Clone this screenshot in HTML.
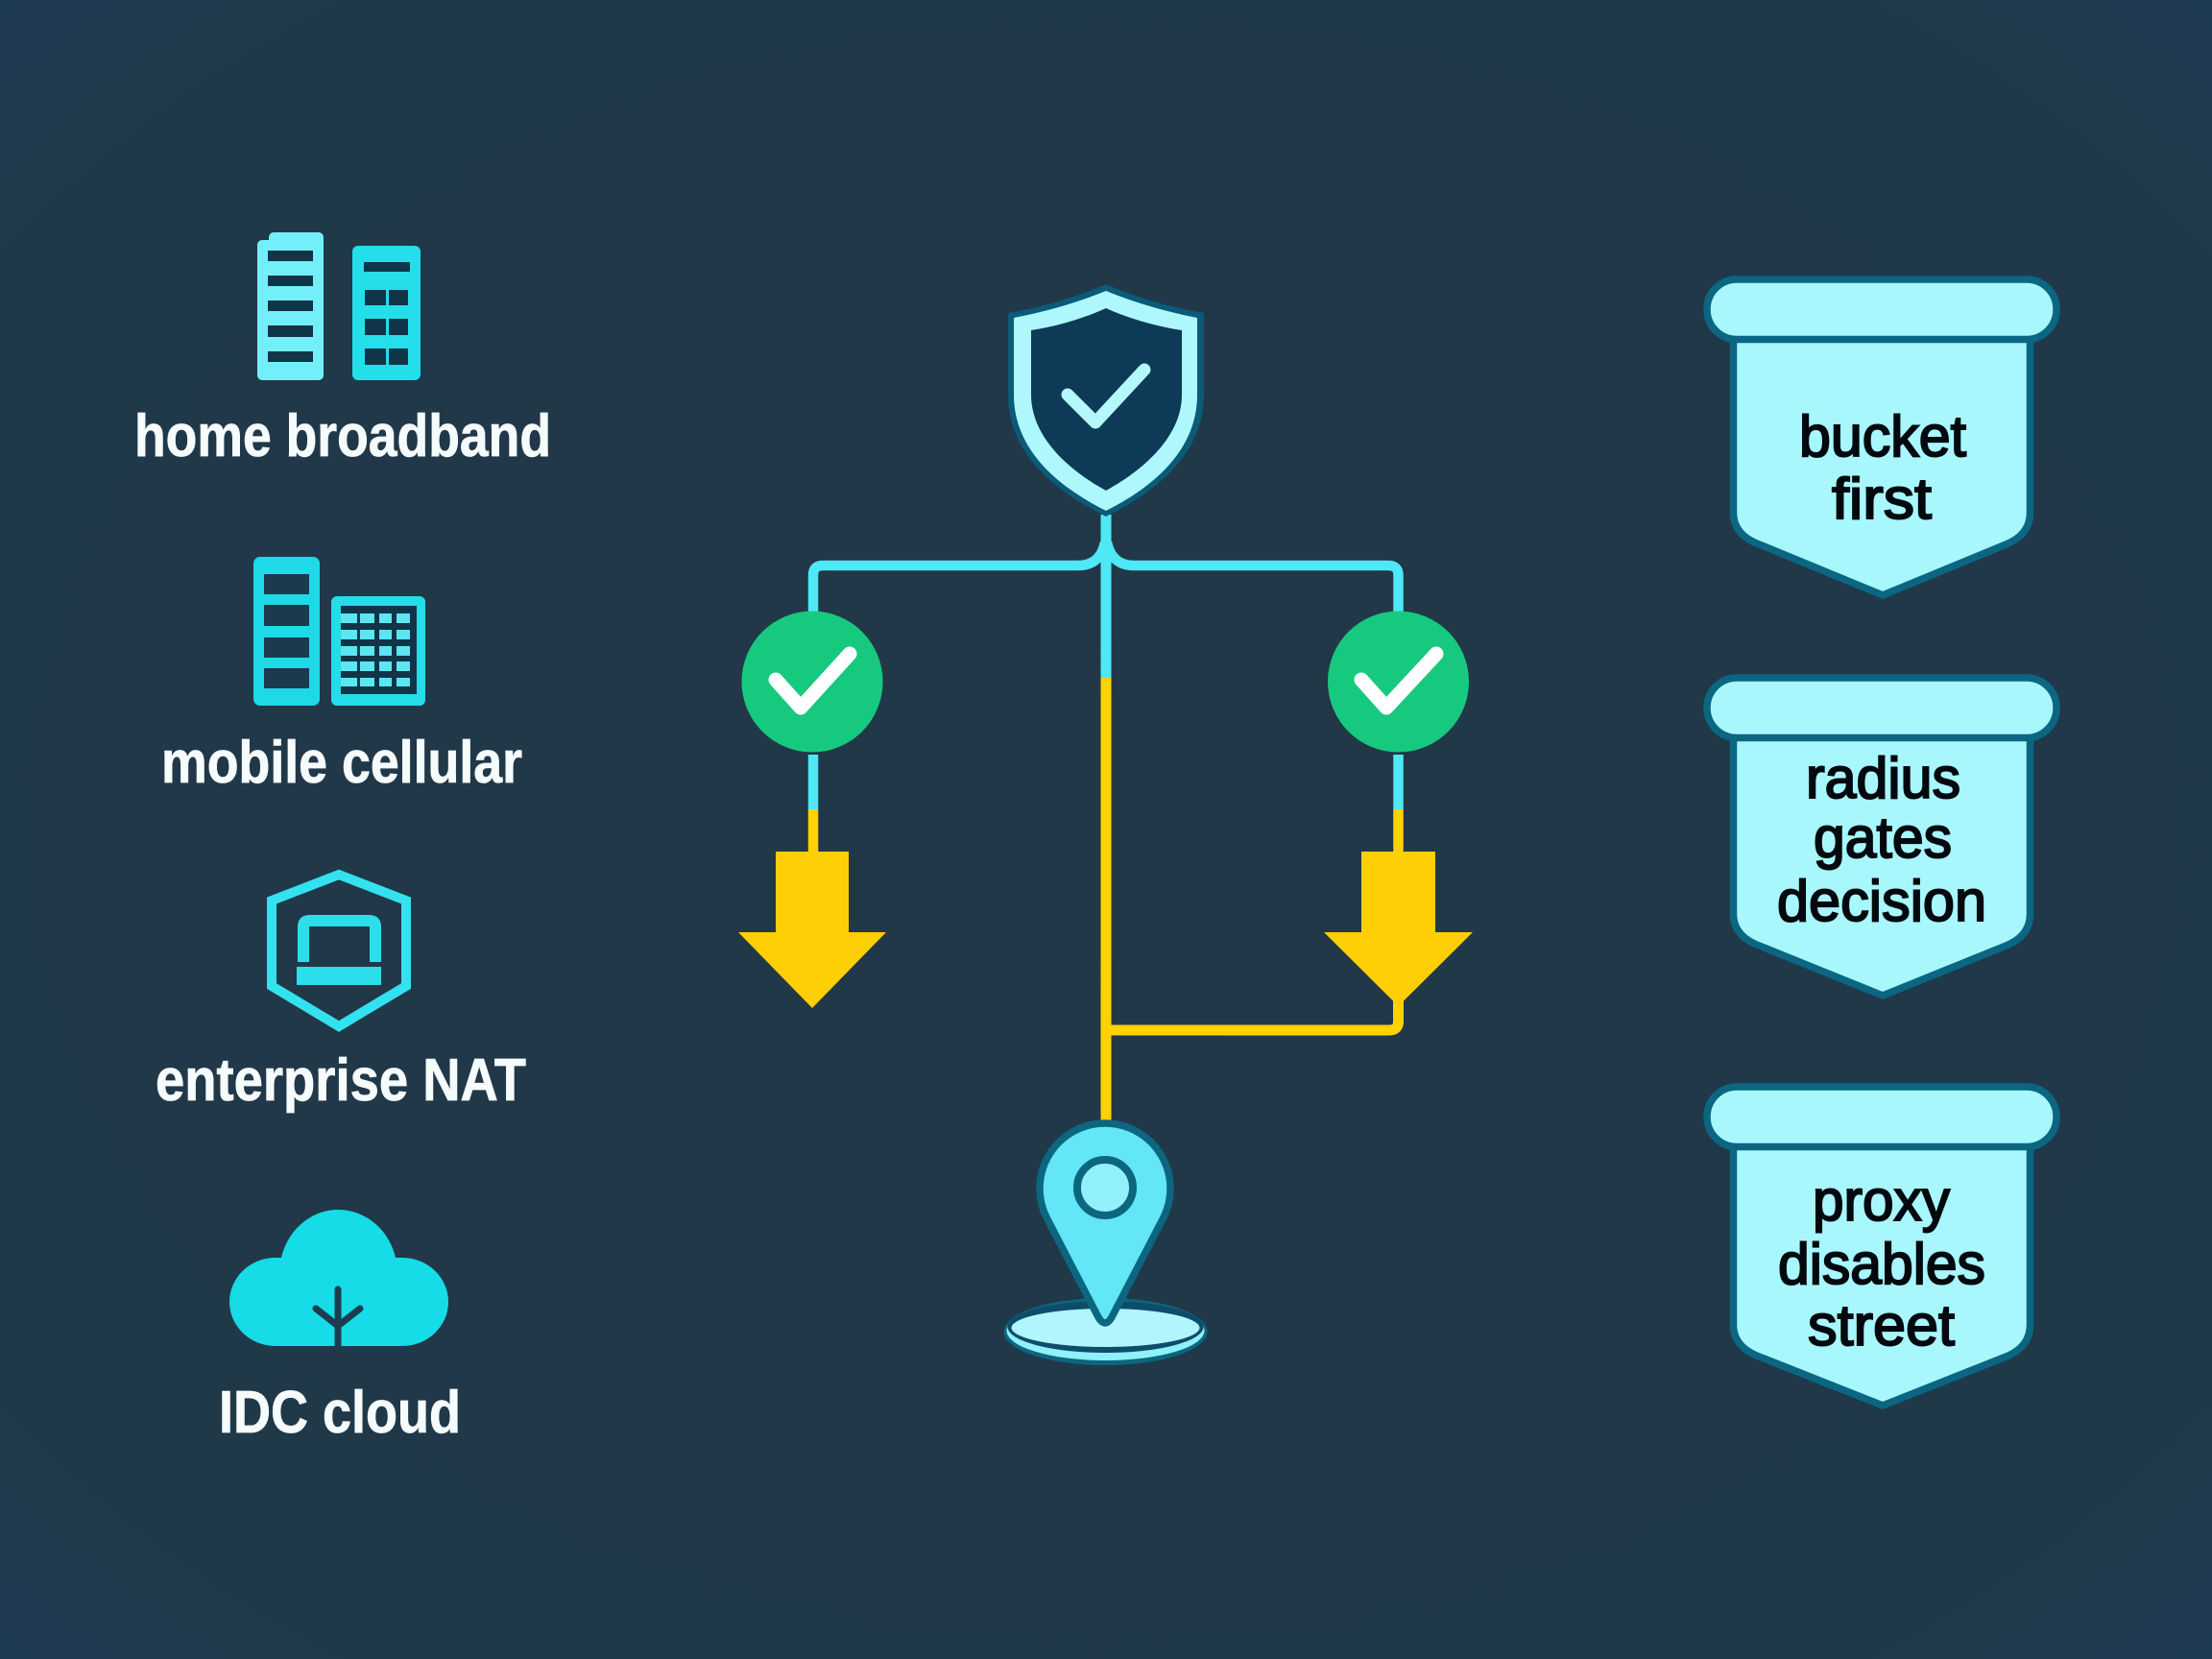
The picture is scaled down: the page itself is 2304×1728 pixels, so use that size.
<!DOCTYPE html>
<html lang="en"><head><meta charset="utf-8"><title>Diagram</title>
<style>
html,body{margin:0;padding:0;background:#213849}
svg{display:block}
text{font-family:"Liberation Sans",sans-serif}
.w{fill:#f6fbfc;stroke:#f6fbfc;stroke-width:.8px;font-weight:700;font-size:62px}
.k{fill:#03090e;font-size:60px;stroke:#03090e;stroke-width:2px}
</style></head><body>
<svg xmlns="http://www.w3.org/2000/svg" width="2304" height="1728" viewBox="0 0 2304 1728">
<defs>
<radialGradient id="bg" cx="50%" cy="50%" r="72%">
<stop offset="0" stop-color="#213748"/><stop offset="0.82" stop-color="#203949"/><stop offset="1" stop-color="#1f3b54"/>
</radialGradient>
</defs>
<rect width="2304" height="1728" fill="url(#bg)"/>

<!-- home broadband icon -->
<rect x="268" y="250" width="69" height="146" rx="5" fill="#72eff8"/>
<rect x="280" y="242" width="57" height="30" rx="5" fill="#72eff8"/>
<g fill="#113548">
<rect x="279" y="261" width="47" height="11"/><rect x="279" y="287" width="47" height="11"/><rect x="279" y="313" width="47" height="11"/><rect x="279" y="339" width="47" height="12"/><rect x="279" y="366" width="47" height="11"/>
</g>
<rect x="367" y="256" width="71" height="140" rx="6" fill="#24dfea"/>
<g fill="#113548">
<rect x="379" y="273" width="48" height="10"/>
<rect x="380" y="302" width="22" height="16"/><rect x="405" y="302" width="20" height="16"/>
<rect x="380" y="332" width="22" height="17"/><rect x="405" y="332" width="20" height="17"/>
<rect x="380" y="363" width="22" height="17"/><rect x="405" y="363" width="20" height="17"/>
</g>
<text class="w" x="140" y="475" textLength="434" lengthAdjust="spacingAndGlyphs">home broadband</text>

<!-- mobile cellular icon -->
<rect x="264" y="580" width="69" height="155" rx="7" fill="#1ed9e7"/>
<g fill="#1b3a4e">
<rect x="275" y="598" width="47" height="21"/><rect x="275" y="630" width="47" height="22"/><rect x="275" y="664" width="47" height="21"/><rect x="275" y="696" width="47" height="21"/>
</g>
<rect x="345" y="621" width="98" height="114" rx="6" fill="#25dde9"/>
<rect x="355" y="631" width="79" height="92" fill="#113548"/>
<g fill="#5be6f2">
<rect x="355" y="639" width="17" height="10"/><rect x="375" y="639" width="15" height="10"/><rect x="395" y="639" width="13" height="10"/><rect x="413" y="639" width="14" height="10"/>
<rect x="355" y="656" width="17" height="10"/><rect x="375" y="656" width="15" height="10"/><rect x="395" y="656" width="13" height="10"/><rect x="413" y="656" width="14" height="10"/>
<rect x="355" y="673" width="17" height="10"/><rect x="375" y="673" width="15" height="10"/><rect x="395" y="673" width="13" height="10"/><rect x="413" y="673" width="14" height="10"/>
<rect x="355" y="689" width="17" height="10"/><rect x="375" y="689" width="15" height="10"/><rect x="395" y="689" width="13" height="10"/><rect x="413" y="689" width="14" height="10"/>
<rect x="355" y="706" width="17" height="9"/><rect x="375" y="706" width="15" height="9"/><rect x="395" y="706" width="13" height="9"/><rect x="413" y="706" width="14" height="9"/>
</g>
<text class="w" x="168" y="815" textLength="376" lengthAdjust="spacingAndGlyphs">mobile cellular</text>

<!-- enterprise NAT icon -->
<polygon points="353,911 423,938 423,1027 353,1069 283,1027 283,938" fill="none" stroke="#33e2ee" stroke-width="10"/>
<path d="M316,1002 V965 Q316,959 322,959 H385 Q391,959 391,965 V1002" fill="none" stroke="#2cdeea" stroke-width="12"/>
<rect x="309" y="1007" width="88" height="19" fill="#2cdeea"/>
<text class="w" x="162" y="1146" textLength="386" lengthAdjust="spacingAndGlyphs">enterprise NAT</text>

<!-- IDC cloud icon -->
<path d="M287,1402 A48,46 0 0 1 287,1310 H293 C300,1280 325,1260 352,1260 C380,1260 405,1280 412,1310 H419 A48,46 0 0 1 419,1402 Z" fill="#15dce6"/>
<path d="M352,1343 V1402 M329,1363 L352,1381 L375,1363" fill="none" stroke="#1c3d50" stroke-width="7" stroke-linecap="round"/>
<text class="w" x="228" y="1492" textLength="252" lengthAdjust="spacingAndGlyphs">IDC cloud</text>

<!-- connectors -->
<g fill="none" stroke-width="10.500">
<path d="M1152,536 V706" stroke="#4fe8f6" stroke-width="11"/>
<path d="M1152,706 V1170" stroke="#ffd200" stroke-width="11"/>
<path d="M1151,565 Q1146,589 1123,589 H857 Q847,589 847,599 V640" stroke="#4fe8f6"/>
<path d="M1153,565 Q1158,589 1181,589 H1446 Q1456.500,589 1456.500,599 V640" stroke="#4fe8f6"/>
<path d="M847,786 V843" stroke="#4fe8f6"/>
<path d="M1456.500,786 V843" stroke="#4fe8f6"/>
<path d="M847,843 V890" stroke="#ffd200"/>
<path d="M1456.500,843 V890" stroke="#ffd200"/>
<path d="M1456.500,1030 V1064 Q1456.500,1073 1447,1073 H1152" stroke="#ffd200" stroke-width="11"/>
</g>

<!-- arrows -->
<polygon points="808,887 884,887 884,971 923,971 846,1050 769,971 808,971" fill="#ffcf05"/>
<polygon points="1418,887 1495,887 1495,971 1534,971 1456.500,1048 1379,971 1418,971" fill="#ffcf05"/>

<!-- green circles -->
<circle cx="846" cy="710" r="73.500" fill="#17c97f"/>
<circle cx="1456.500" cy="710" r="73.500" fill="#17c97f"/>
<path d="M808,708 L834,737 L885,681" fill="none" stroke="#fff" stroke-width="15" stroke-linecap="round" stroke-linejoin="round"/>
<path d="M1418,708 L1444,737 L1496,681" fill="none" stroke="#fff" stroke-width="15" stroke-linecap="round" stroke-linejoin="round"/>

<!-- shield -->
<path d="M1152,296 C1120,310 1085,320 1050,326 V411 C1050,470 1095,510 1152,538 C1209,510 1254,470 1254,411 V326 C1219,320 1184,310 1152,296 Z" fill="#0a5a78"/>
<path d="M1152,303 C1120,316 1088,325 1056,331 V411 C1056,466 1098,505 1152,532 C1206,505 1247,466 1247,411 V331 C1216,325 1184,316 1152,303 Z" fill="#aef7fc"/>
<path d="M1152,321 C1128,332 1100,340 1074,344 V411 C1074,450 1105,485 1152,511 C1199,485 1231,450 1231,411 V344 C1205,340 1176,332 1152,321 Z" fill="#0d3a56"/>
<path d="M1112,411 L1141,440 L1192,385" fill="none" stroke="#b4f8fb" stroke-width="13" stroke-linecap="round" stroke-linejoin="round"/>

<!-- pin base -->
<ellipse cx="1151.500" cy="1387" rx="106" ry="35" fill="#0d6680"/>
<ellipse cx="1151.500" cy="1386" rx="103" ry="31" fill="#8ff1f9"/>
<ellipse cx="1151.500" cy="1382" rx="102" ry="27" fill="#0e4d6a"/>
<ellipse cx="1151.500" cy="1383" rx="98" ry="20" fill="#b0f6fc"/>
<!-- pin -->
<path d="M1091.300,1270.500 A68,68 0 1 1 1210.700,1270.500 L1158,1372 Q1151,1384 1144,1372 Z" fill="#63e6f5" stroke="#0d6680" stroke-width="7.500"/>
<circle cx="1151" cy="1237" r="29" fill="#92f0fa" stroke="#0d6680" stroke-width="8"/>

<!-- badge 1 -->
<g fill="#a8f7fc" stroke="#0b6682" stroke-width="7.500">
<path d="M1805.500,350 H2114.500 V534 Q2114.500,558 2087,568 L1961,620 L1835,568 Q1805.500,558 1805.500,534 Z"/>
<rect x="1778" y="291" width="364" height="62.500" rx="31"/>
</g>
<text class="k" x="1874" y="475" textLength="174" lengthAdjust="spacingAndGlyphs">bucket</text>
<text class="k" x="1908" y="540" textLength="104" lengthAdjust="spacingAndGlyphs">first</text>

<!-- badge 2 -->
<g fill="#a8f7fc" stroke="#0b6682" stroke-width="7.500">
<path d="M1805.500,765 H2114.500 V952 Q2114.500,976 2087,986 L1961,1037 L1835,986 Q1805.500,976 1805.500,952 Z"/>
<rect x="1778" y="706" width="364" height="62.500" rx="31"/>
</g>
<text class="k" x="1881" y="831" textLength="161" lengthAdjust="spacingAndGlyphs">radius</text>
<text class="k" x="1889" y="893" textLength="144" lengthAdjust="spacingAndGlyphs">gates</text>
<text class="k" x="1851" y="959" textLength="218" lengthAdjust="spacingAndGlyphs">decision</text>

<!-- badge 3 -->
<g fill="#a8f7fc" stroke="#0b6682" stroke-width="7.500">
<path d="M1805.500,1190 H2114.500 V1380 Q2114.500,1404 2087,1414 L1961,1464 L1835,1414 Q1805.500,1404 1805.500,1380 Z"/>
<rect x="1778" y="1132" width="364" height="62.500" rx="31"/>
</g>
<text class="k" x="1888" y="1271" textLength="143" lengthAdjust="spacingAndGlyphs">proxy</text>
<text class="k" x="1852" y="1337" textLength="216" lengthAdjust="spacingAndGlyphs">disables</text>
<text class="k" x="1883" y="1401" textLength="153" lengthAdjust="spacingAndGlyphs">street</text>
</svg>
</body></html>
